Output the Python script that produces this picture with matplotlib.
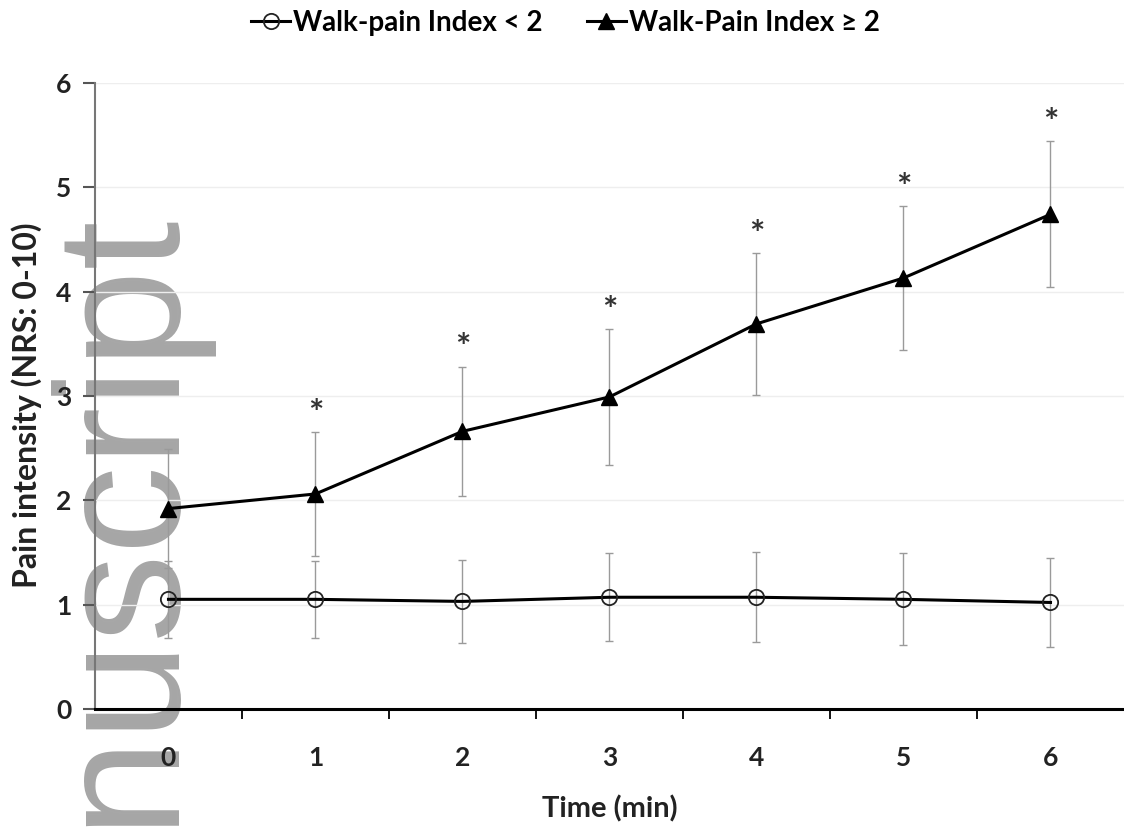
import matplotlib
matplotlib.use('Agg')
import matplotlib.pyplot as plt

# Walk-pain index groups, mean +/- SD of pain intensity per minute
time_min = [0, 1, 2, 3, 4, 5, 6]
low_mean = [1.05, 1.05, 1.03, 1.07, 1.07, 1.05, 1.02]
low_sd = [0.37, 0.37, 0.40, 0.42, 0.43, 0.44, 0.43]
high_mean = [1.92, 2.06, 2.66, 2.99, 3.69, 4.13, 4.74]
high_sd = [0.57, 0.59, 0.62, 0.65, 0.68, 0.69, 0.70]
signif = [False, True, True, True, True, True, True]

label_low = 'Walk-pain Index < 2'
label_high = 'Walk-Pain Index \u2265 2'

plt.rcParams['font.family'] = ['Lato', 'DejaVu Sans']

fig = plt.figure(figsize=(11.24, 8.33), dpi=100)
ax = fig.add_axes([0.0845, 0.149, 0.9155, 0.7515])
ax.patch.set_alpha(0)

ax.errorbar(time_min, low_mean, yerr=low_sd, fmt='none', ecolor='#9a9a9a',
            elinewidth=1, capsize=3, capthick=1, zorder=2)
ax.errorbar(time_min, high_mean, yerr=high_sd, fmt='none', ecolor='#9a9a9a',
            elinewidth=1, capsize=3, capthick=1, zorder=2)

ax.plot(time_min, low_mean, '-o', color='black', lw=2.2, ms=11,
        mfc='none', mec='#222222', mew=1.3, label=label_low, zorder=3)
ax.plot(time_min, high_mean, '-^', color='black', lw=2.2, ms=12,
        label=label_high, zorder=3)

# asterisks above the upper error bar
for t, m, s, sig in zip(time_min, high_mean, high_sd, signif):
    if sig:
        ax.annotate('*', xy=(t, m + s), xytext=(0, 1), textcoords='offset points',
                    ha='center', va='bottom', fontsize=26, fontweight='bold',
                    color='#333333')

ax.set_xlim(-0.5, 6.5)
ax.set_ylim(0, 6)
ax.set_xticks(time_min)
ax.set_xticks([t + 0.5 for t in time_min[:-1]], minor=True)
ax.set_yticks(range(7))
ax.tick_params(axis='x', which='major', length=0, pad=27, labelsize=19)
ax.tick_params(axis='x', which='minor', length=7, width=1.3, direction='out')
ax.tick_params(axis='y', length=9, width=1.5, color='#555555', pad=8, labelsize=19)
for lab in ax.get_xticklabels() + ax.get_yticklabels():
    lab.set_fontweight('bold')
    lab.set_color('#222222')

ax.yaxis.grid(True, color='#eeeeee', lw=1)
ax.set_axisbelow(True)
ax.spines['top'].set_visible(False)
ax.spines['right'].set_visible(False)
ax.spines['left'].set_color('#777777')
ax.spines['left'].set_linewidth(1.5)
ax.spines['bottom'].set_color('black')
ax.spines['bottom'].set_linewidth(2.2)

ax.set_xlabel('Time (min)', fontsize=21, fontweight='bold', color='#222222', labelpad=18)
ax.set_ylabel('Pain intensity (NRS: 0-10)', fontsize=23, fontweight='bold',
              color='#222222')
ax.yaxis.set_label_coords(-0.051, 0.485)

fig.legend(loc='upper center', bbox_to_anchor=(0.503, 1.018), ncol=2, frameon=False,
           prop={'weight': 'bold', 'size': 20}, handlelength=1.4,
           handletextpad=0.1, columnspacing=1.6)

# "Accepted Manuscript" stamp fragment, behind the data
fig.text(168 / 1124, 7 / 833, 'nuscript', rotation=90, rotation_mode='anchor',
         ha='left', va='baseline', fontsize=127, family='Liberation Sans',
         color='#a6a6a6', zorder=-1)

fig.savefig('out.png', dpi=100)
